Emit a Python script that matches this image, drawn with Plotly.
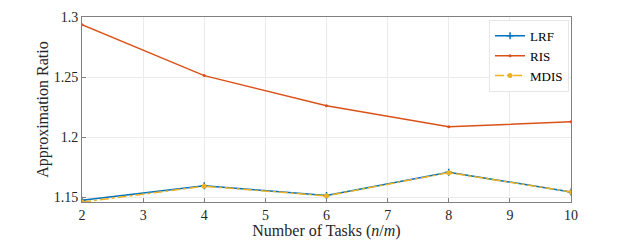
import plotly.graph_objects as go

tasks = [2, 4, 6, 8, 10]
lrf = [1.1478, 1.1597, 1.1517, 1.1711, 1.1546]
ris = [1.2936, 1.2513, 1.2263, 1.2088, 1.2130]
mdis = [1.1462, 1.1594, 1.1514, 1.1707, 1.1547]

FONT = "Liberation Serif"

fig = go.Figure()
fig.add_trace(go.Scatter(x=tasks, y=lrf, name="LRF", mode="lines+markers",
                         line=dict(color="#0072BD", width=1.5),
                         marker=dict(symbol="cross-thin", size=5, color="#0072BD",
                                     line=dict(color="#0072BD", width=1.5))))
fig.add_trace(go.Scatter(x=tasks, y=ris, name="RIS", mode="lines+markers",
                         line=dict(color="#D95319", width=1.5),
                         marker=dict(symbol="circle", size=3, color="#D95319")))
fig.add_trace(go.Scatter(x=tasks, y=mdis, name="MDIS", mode="lines+markers",
                         line=dict(color="#EDB120", width=1.5, dash="dashdot"),
                         marker=dict(symbol="circle", size=5, color="#EDB120")))

fig.update_layout(
    width=631, height=240,
    margin=dict(l=82, r=60, t=17, b=38, autoexpand=False),
    paper_bgcolor="white", plot_bgcolor="white",
    font=dict(family=FONT, size=14, color="#262626"),
    showlegend=True,
    legend=dict(x=0.996, y=0.985, xanchor="right", yanchor="top",
                bgcolor="white", bordercolor="#e6e6e6", borderwidth=1,
                font=dict(family=FONT, size=13, color="#000"),
                tracegroupgap=0, itemwidth=30),
)
fig.update_xaxes(range=[2, 10], tickmode="linear", tick0=2, dtick=1,
                 showgrid=True, gridcolor="#ebebeb", gridwidth=1,
                 showline=True, linecolor="#808080", linewidth=1, mirror=True,
                 ticks="inside", ticklen=4, tickcolor="#808080",
                 zeroline=False, tickfont=dict(family=FONT, size=14),
                 title=dict(text="Number of Tasks (<i>n</i>/<i>m</i>)", standoff=5,
                            font=dict(family=FONT, size=16)))
fig.update_yaxes(range=[1.1463, 1.3], tickvals=[1.15, 1.2, 1.25, 1.3],
                 ticktext=["1.15", "1.2", "1.25", "1.3"],
                 showgrid=True, gridcolor="#ebebeb", gridwidth=1,
                 showline=True, linecolor="#808080", linewidth=1, mirror=True,
                 ticks="inside", ticklen=4, tickcolor="#808080",
                 zeroline=False, tickfont=dict(family=FONT, size=14),
                 title=dict(text="Approximation Ratio", standoff=1,
                            font=dict(family=FONT, size=16)))

fig.write_html("out.html", config={"displayModeBar": False},
               post_script="document.body.style.margin='0';")
